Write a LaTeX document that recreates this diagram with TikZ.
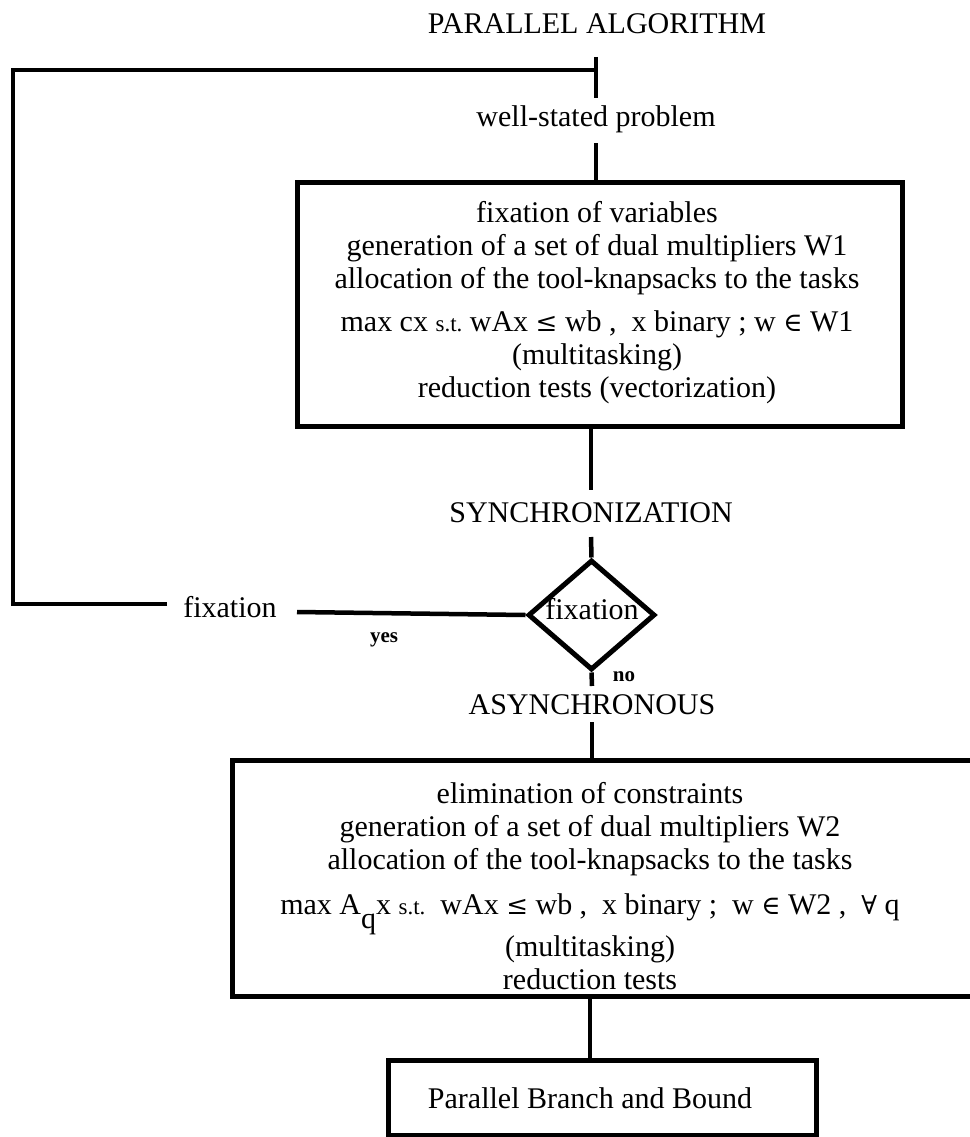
\documentclass[tikz,border=0pt]{standalone}
\usepackage{fontspec}
\setmainfont{Liberation Serif}
\newfontfamily\symfont{DejaVu Serif}
\usetikzlibrary{shapes.geometric}
\begin{document}
\begin{tikzpicture}[x=1pt,y=-1pt]
\tikzset{
  txt/.style={font=\fontsize{30}{33}\selectfont, inner sep=0pt},
  lab/.style={font=\fontsize{21}{21}\selectfont\bfseries, inner sep=0pt},
  box/.style={draw, line width=5pt, rectangle, inner sep=0pt},
  conn/.style={line width=4.5pt},
}
\newcommand{\stsmall}{{\fontsize{23}{23}\selectfont s.t.}}
\newcommand{\symle}{{\symfont\fontsize{26}{26}\selectfont ≤}}
\newcommand{\symin}{{\symfont\fontsize{26}{26}\selectfont ∈}}
\newcommand{\symall}{{\symfont\fontsize{26}{26}\selectfont ∀}}
\useasboundingbox (0,0) rectangle (969,1137);

% title
\node[txt] (title) at (597,24) {PARALLEL ALGORITHM};

% loop back
\coordinate (tickTop) at (596,57);
\coordinate (tickBot) at (596,98);
\coordinate (loopTR) at (596,70);
\coordinate (loopTL) at (13,70);
\coordinate (loopBL) at (13,604);
\coordinate (fixLft) at (167,604);
\coordinate (fixR) at (297,612);

\node[txt] (ws) at (596,119) {well-stated problem};
\coordinate (wsLine) at (596,143);

\node[box, minimum width=605pt, minimum height=244pt] (b1) at (599.5,304) {};
\node[txt, align=center] (b1t) at (597,303) {fixation of variables\\
generation of a set of dual multipliers W1\\
allocation of the tool-knapsacks to the tasks\\[10pt]
max cx \stsmall\ wAx \symle\ wb ,\ \ x binary ; w \symin\ W1\\
(multitasking)\\
reduction tests (vectorization)};

\node[txt] (sync) at (591,513) {SYNCHRONIZATION};
\coordinate (syncA) at (591,490);
\coordinate (syncB) at (591,537);

\node[draw, diamond, line width=5pt, inner sep=0pt, minimum width=127pt, minimum height=110pt] (dia) at (591.5,615) {};
\node[txt] (diat) at (592,609) {fixation};

\node[txt] (fixl) at (230,607) {fixation};
\node[lab] (yes) at (384,640) {yes};
\node[lab] (no) at (624,677) {no};
\coordinate (noLine) at (592,686);

\node[txt] (async) at (592,705) {ASYNCHRONOUS};
\coordinate (asA) at (592,722);

\node[box, minimum width=770pt, minimum height=236pt] (b2) at (617,878) {};
\node[txt, align=center] (b2t) at (590,886) {elimination of constraints\\
generation of a set of dual multipliers W2\\
allocation of the tool-knapsacks to the tasks\\[12pt]
max A\raisebox{-0.45em}{q}x \stsmall\ \ wAx \symle\ wb ,\ \ x binary ;\ \ w \symin\ W2 ,\ \ \symall\ q\\
(multitasking)\\
reduction tests};

\node[box, minimum width=428pt, minimum height=75pt] (b3) at (602,1097.5) {};
\node[txt] (b3t) at (590,1098) {Parallel Branch and Bound};

% connectors
\draw[conn] (tickTop) -- (tickBot);
\draw[conn] (fixLft) -- (loopBL) -- (loopTL) -- (loopTR);
\draw[conn] (wsLine) -- (wsLine |- b1.north);
\draw[conn] (b1.south -| syncA) -- (syncA);
\draw[conn] (syncB) -- (dia.north);
\draw[conn] (dia.west) -- (fixR);
\draw[conn] (dia.south) -- (noLine);
\draw[conn] (asA) -- (asA |- b2.north);
\draw[conn] (b2.south -| b3t) -- (b3t |- b3.north);
\end{tikzpicture}
\end{document}
